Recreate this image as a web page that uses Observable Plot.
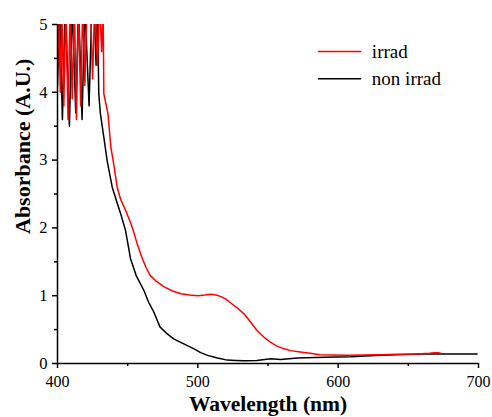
<!DOCTYPE html>
<html>
<head>
<meta charset="utf-8">
<script src="https://cdn.jsdelivr.net/npm/d3@7"></script>
<script src="https://cdn.jsdelivr.net/npm/@observablehq/plot@0.6"></script>
<style>
  html, body { margin: 0; padding: 0; background: #fff; }
  #chart svg { display: block; }
</style>
</head>
<body>
<div id="chart"></div>
<script>
// Wavelength (nm) / absorbance pairs
const irradWavelength = [400,400.8,402,403,404.5,406,407.5,409,410.5,412,413.5,415,416.5,418,419.5,421,423.5,425,426.5,428.5,430,431.5,432.5,
  433,436,438,440,442.5,445,448.5,452,454,457,460,463,466,470,476,482,488,494,500,505,509,513,516,520,523,528,533,538,542,547,552,556,561,566,573,580,587,595,606,618,630,642,656,665,669,671,673];
const irradAbs = [4.3,5.3,4.0,5.3,3.8,5.3,3.6,5.3,3.9,5.3,3.6,5.3,3.8,5.3,4.1,5.3,5.3,4.2,5.3,4.4,5.3,4.6,5.3,
  3.98,3.68,3.19,2.95,2.60,2.42,2.26,2.08,1.96,1.75,1.57,1.42,1.30,1.22,1.13,1.07,1.03,1.01,1.00,1.01,1.02,1.01,0.99,0.95,0.90,0.82,0.73,0.60,0.49,0.39,0.31,0.26,0.22,0.19,0.17,0.15,0.13,0.125,0.12,0.125,0.13,0.135,0.14,0.15,0.16,0.16,0.15];

const nonWavelength = [400,401.5,403.5,405.5,408.5,410.5,413,415,417.5,419.5,422.5,424.5,426,427.5,428.5,
  429.4,430.6,433,435.4,439,442,445,448.5,452,456,461.5,465,468.6,473,478,483,490,497,502,507,514,521,527,533,542,552,559,571,590,609,630,659,699];
const nonAbs = [4.1,5.3,3.6,5.3,3.5,5.3,3.7,5.3,3.6,5.3,3.8,5.3,5.3,4.4,5.3,
  3.98,3.68,3.34,2.99,2.60,2.40,2.21,1.96,1.55,1.30,1.08,0.90,0.76,0.54,0.44,0.36,0.29,0.22,0.16,0.12,0.08,0.05,0.045,0.04,0.044,0.07,0.06,0.08,0.093,0.10,0.12,0.14,0.14];

const seriesNames = ["irrad", "non irrad"];
const seriesColors = ["#ff0000", "#000000"];
const xTicks = [400, 500, 600, 700];
const xMinorTicks = [450, 550, 650];
const yTicks = [0, 1, 2, 3, 4, 5];
const yMinorTicks = [0.5, 1.5, 2.5, 3.5, 4.5];
const xLabel = "Wavelength (nm)";
const yLabel = "Absorbance (A.U.)";
// legend placement in data units
const legendX = [586, 616];
const legendY = [4.6, 4.2];

const irrad = irradWavelength.map((x, i) => ({x, y: irradAbs[i]}));
const nonIrrad = nonWavelength.map((x, i) => ({x, y: nonAbs[i]}));
const legendLines = seriesNames.flatMap((s, i) => legendX.map(x => ({x, y: legendY[i], s})));
const legendText = seriesNames.map((s, i) => ({x: legendX[1] + 8, y: legendY[i], s}));

const font = "Liberation Serif";

const chart = Plot.plot({
  width: 492,
  height: 417,
  marginLeft: 57,
  marginRight: 14,
  marginTop: 24,
  marginBottom: 54,
  style: {fontFamily: font, fontSize: "17px", color: "#000", background: "#fff"},
  x: {domain: [400, 700]},
  y: {domain: [0, 5]},
  color: {domain: seriesNames, range: seriesColors},
  marks: [
    Plot.line(nonIrrad, {x: "x", y: "y", stroke: seriesColors[1], strokeWidth: 1.5, clip: true}),
    Plot.line(irrad, {x: "x", y: "y", stroke: seriesColors[0], strokeWidth: 1.5, clip: true}),
    Plot.axisX({ticks: xTicks, tickSize: 5, tickFormat: () => "", label: null, strokeWidth: 1.5}),
    Plot.axisX({ticks: xMinorTicks, tickSize: 3, tickFormat: () => "", label: null, strokeWidth: 1.5}),
    Plot.axisY({ticks: yTicks, tickSize: 5, tickFormat: () => "", label: null, strokeWidth: 1.5}),
    Plot.axisY({ticks: yMinorTicks, tickSize: 3, tickFormat: () => "", label: null, strokeWidth: 1.5}),
    Plot.text(xTicks, {x: d => d, frameAnchor: "bottom", dy: 18, lineAnchor: "middle", text: d => String(d), fontSize: 16, fill: "#000"}),
    Plot.text(yTicks, {y: d => d, frameAnchor: "left", dx: -10, textAnchor: "end", lineAnchor: "middle", text: d => String(d), fontSize: 16.5, fill: "#000"}),
    Plot.ruleY([0], {stroke: "#000", strokeWidth: 1.5}),
    Plot.ruleX([400], {stroke: "#000", strokeWidth: 1.5}),
    Plot.line(legendLines, {x: "x", y: "y", z: "s", stroke: "s", strokeWidth: 1.5}),
    Plot.text(legendText, {x: "x", y: "y", text: "s", textAnchor: "start", fontSize: 19, fill: "#000"}),
    Plot.text([xLabel], {frameAnchor: "bottom", dy: 47, fontSize: 21.5, fontWeight: "bold", fill: "#000"}),
    Plot.text([yLabel], {frameAnchor: "left", dx: -35, dy: 40, rotate: -90, fontSize: 22, fontWeight: "bold", fill: "#000"})
  ]
});
document.getElementById("chart").appendChild(chart);
</script>
</body>
</html>
